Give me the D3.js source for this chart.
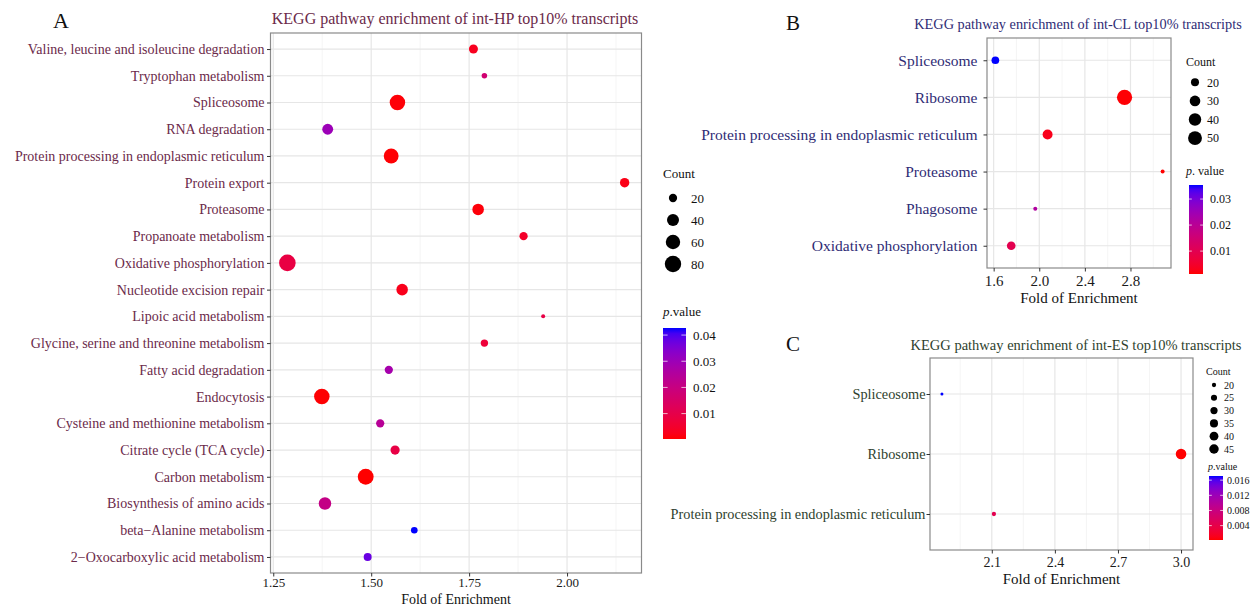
<!DOCTYPE html>
<html lang="en">
<head>
<meta charset="UTF-8">
<title>KEGG pathway enrichment</title>
<script src="https://d3js.org/d3.v7.min.js"></script>
<style>
  body { margin: 0; background: #fff; }
  svg text { font-family: "Liberation Serif", "Times New Roman", serif; }
</style>
</head>
<body>
<svg id="chart" width="1255" height="606"></svg>
<script>
// ---- panel A : int-HP (rows listed top to bottom)
const pathwaysA = [
  "Valine, leucine and isoleucine degradation", "Tryptophan metabolism", "Spliceosome",
  "RNA degradation", "Protein processing in endoplasmic reticulum", "Protein export",
  "Proteasome", "Propanoate metabolism", "Oxidative phosphorylation",
  "Nucleotide excision repair", "Lipoic acid metabolism", "Glycine, serine and threonine metabolism",
  "Fatty acid degradation", "Endocytosis", "Cysteine and methionine metabolism",
  "Citrate cycle (TCA cycle)", "Carbon metabolism", "Biosynthesis of amino acids",
  "beta\u2212Alanine metabolism", "2\u2212Oxocarboxylic acid metabolism"
];
const foldA = [1.761, 1.789, 1.567, 1.389, 1.551, 2.147, 1.773, 1.889, 1.286, 1.579,
               1.939, 1.789, 1.545, 1.374, 1.523, 1.561, 1.486, 1.382, 1.610, 1.491];
const countA = [23, 13, 70, 33, 64, 25, 37, 20, 82, 37, 12, 17, 20, 70, 20, 24, 74, 44, 15, 19];
const pvalA = [0.003, 0.017, 0.0008, 0.030, 0.0006, 0.002, 0.001, 0.0045, 0.0087, 0.0025,
               0.009, 0.007, 0.028, 0.0005, 0.024, 0.009, 0.0003, 0.021, 0.0427, 0.0376];
const xTicksA = [1.25, 1.5, 1.75, 2.0];
const xMinorA = [1.375, 1.625, 1.875, 2.125];
const countBreaksA = [20, 40, 60, 80];
const pBreaksA = [0.01, 0.02, 0.03, 0.04];

// ---- panel B : int-CL
const pathwaysB = ["Spliceosome", "Ribosome", "Protein processing in endoplasmic reticulum",
                   "Proteasome", "Phagosome", "Oxidative phosphorylation"];
const foldB = [1.615, 2.748, 2.073, 3.082, 1.965, 1.754];
const countB = [19, 60, 27, 14, 14, 22];
const pvalB = [0.0354, 0.0015, 0.003, 0.0012, 0.0217, 0.0097];
const xTicksB = [1.6, 2.0, 2.4, 2.8];
const xMinorB = [1.8, 2.2, 2.6, 3.0];
const countBreaksB = [20, 30, 40, 50];
const pBreaksB = [0.01, 0.02, 0.03];

// ---- panel C : int-ES
const pathwaysC = ["Spliceosome", "Ribosome", "Protein processing in endoplasmic reticulum"];
const foldC = [1.863, 3.0, 2.11];
const countC = [19, 55, 20];
const pvalC = [0.0171, 0.0002, 0.0044];
const xTicksC = [2.1, 2.4, 2.7, 3.0];
const xMinorC = [1.95, 2.25, 2.55, 2.85];
const countBreaksC = [20, 25, 30, 35, 40, 45];
const pBreaksC = [0.004, 0.008, 0.012, 0.016];

const svg = d3.select('#chart');
const defs = svg.append('defs');

// ggplot-like continuous expansion (5% each side)
function expand(ext, k) {
  const d = (ext[1] - ext[0]) * k;
  return [ext[0] - d, ext[1] + d];
}

function drawPanel(p) {
  const g = svg.append('g');
  const b = p.box;

  const x = d3.scaleLinear().domain(expand(d3.extent(p.fold), 0.05)).range([b.left, b.right]);
  const y = d3.scalePoint().domain(p.cats).range([b.top, b.bottom]).padding(0.6);
  const color = d3.scaleLinear().domain(d3.extent(p.pval))
    .range(['#ff0000', '#0000ff']).interpolate(d3.interpolateLab);
  const norm = d3.scaleLinear().domain(d3.extent(p.count)).clamp(true);
  const rad = d3.scaleLinear().domain([0, 1]).range(p.rRange);
  const r = n => rad(Math.sqrt(norm(n)));

  // panel background + grid
  g.append('rect').attr('x', b.left).attr('y', b.top)
    .attr('width', b.right - b.left).attr('height', b.bottom - b.top).attr('fill', '#fff');
  g.selectAll('.minor').data(p.minor).enter().append('line')
    .attr('x1', d => x(d)).attr('x2', d => x(d)).attr('y1', b.top).attr('y2', b.bottom)
    .attr('stroke', '#f0f0f0').attr('stroke-width', 0.7);
  g.selectAll('.vmajor').data(p.ticks).enter().append('line')
    .attr('x1', d => x(d)).attr('x2', d => x(d)).attr('y1', b.top).attr('y2', b.bottom)
    .attr('stroke', '#e6e6e6').attr('stroke-width', 1.2);
  g.selectAll('.hmajor').data(p.cats).enter().append('line')
    .attr('x1', b.left).attr('x2', b.right).attr('y1', d => y(d)).attr('y2', d => y(d))
    .attr('stroke', '#e6e6e6').attr('stroke-width', 1.2);

  // points
  g.selectAll('.pt').data(p.cats).enter().append('circle')
    .attr('cx', (d, i) => x(p.fold[i]))
    .attr('cy', d => y(d))
    .attr('r', (d, i) => r(p.count[i]))
    .attr('fill', (d, i) => color(p.pval[i]));

  // border
  g.append('rect').attr('x', b.left).attr('y', b.top)
    .attr('width', b.right - b.left).attr('height', b.bottom - b.top)
    .attr('fill', 'none').attr('stroke', '#8a8a8a').attr('stroke-width', 1.2);

  // axes
  const ax = g.append('g').attr('transform', `translate(0,${b.bottom})`)
    .call(d3.axisBottom(x).tickValues(p.ticks).tickFormat(d3.format(p.fmt))
      .tickSize(3.5).tickPadding(p.xPad));
  ax.select('.domain').remove();
  ax.selectAll('line').attr('stroke', '#333');
  ax.selectAll('text').attr('font-size', p.xFont).attr('fill', '#1a1a1a')
    .style('font-family', '"Liberation Serif", serif');

  const ay = g.append('g').attr('transform', `translate(${b.left},0)`)
    .call(d3.axisLeft(y).tickSize(3.5).tickPadding(p.yPad));
  ay.select('.domain').remove();
  ay.selectAll('line').attr('stroke', '#333');
  ay.selectAll('text').attr('font-size', p.yFont).attr('fill', p.textColor)
    .style('font-family', '"Liberation Serif", serif');

  // titles
  g.append('text').attr('x', p.letter.x).attr('y', p.letter.y)
    .attr('font-size', p.letter.size).attr('fill', '#111').text(p.letter.t);
  g.append('text').attr('x', p.title.x).attr('y', p.title.y).attr('text-anchor', 'middle')
    .attr('font-size', p.title.size).attr('fill', p.textColor).text(p.title.t);
  g.append('text').attr('x', (b.left + b.right) / 2).attr('y', p.axisTitle.y)
    .attr('text-anchor', 'middle').attr('font-size', p.axisTitle.size)
    .attr('fill', '#111').text('Fold of Enrichment');

  // size legend
  const L = p.legend;
  g.append('text').attr('x', L.titleX).attr('y', L.countY)
    .attr('font-size', L.font).attr('fill', '#111').text('Count');
  const items = g.selectAll('.sz').data(p.countBreaks).enter().append('g');
  items.append('circle').attr('cx', L.cx).attr('cy', (d, i) => L.cy0 + i * L.cstep)
    .attr('r', d => r(d)).attr('fill', '#000');
  items.append('text').attr('x', L.lx).attr('y', (d, i) => L.cy0 + i * L.cstep)
    .attr('dy', '0.35em').attr('font-size', L.font).attr('fill', '#111').text(d => d);

  // colour bar legend
  const pt = g.append('text').attr('x', L.pX).attr('y', L.pY)
    .attr('font-size', L.font).attr('fill', '#111');
  pt.append('tspan').attr('font-style', 'italic').text('p');
  pt.append('tspan').text(L.pLabel);

  const gid = 'grad' + p.letter.t;
  const grad = defs.append('linearGradient').attr('id', gid)
    .attr('x1', 0).attr('y1', 1).attr('x2', 0).attr('y2', 0);
  const pDom = d3.extent(p.pval);
  d3.range(0, 1.0001, 0.05).forEach(t => {
    grad.append('stop').attr('offset', t)
      .attr('stop-color', color(pDom[0] + t * (pDom[1] - pDom[0])));
  });
  g.append('rect').attr('x', L.barX).attr('y', L.barTop).attr('width', L.barW)
    .attr('height', L.barBot - L.barTop).attr('fill', `url(#${gid})`);
  const py = d3.scaleLinear().domain(pDom).range([L.barBot, L.barTop]);
  const bt = g.selectAll('.pb').data(p.pBreaks).enter().append('g');
  bt.append('line').attr('x1', L.barX).attr('x2', L.barX + L.barW / 5)
    .attr('y1', d => py(d)).attr('y2', d => py(d)).attr('stroke', '#fff').attr('stroke-opacity', 0.7);
  bt.append('line').attr('x1', L.barX + L.barW * 4 / 5).attr('x2', L.barX + L.barW)
    .attr('y1', d => py(d)).attr('y2', d => py(d)).attr('stroke', '#fff').attr('stroke-opacity', 0.7);
  bt.append('text').attr('x', L.barX + L.barW + L.pGap).attr('y', d => py(d))
    .attr('dy', '0.35em').attr('font-size', L.font).attr('fill', '#111')
    .text(d => d3.format(p.pFmt)(d));
}

drawPanel({
  cats: pathwaysA, fold: foldA, count: countA, pval: pvalA,
  ticks: xTicksA, minor: xMinorA, fmt: '.2f', countBreaks: countBreaksA, pBreaks: pBreaksA, pFmt: '.2f',
  box: { left: 270.5, right: 641.5, top: 33, bottom: 573 },
  rRange: [2, 8.3], textColor: '#6b2a4a',
  xFont: 13, xPad: 1.5, yFont: 14, yPad: 2.5,
  letter: { t: 'A', x: 53, y: 28, size: 22 },
  title: { t: 'KEGG pathway enrichment of int-HP top10% transcripts', x: 455, y: 24, size: 16 },
  axisTitle: { y: 604, size: 14 },
  legend: { titleX: 663, countY: 178, cx: 673, cy0: 198, cstep: 22, lx: 691, font: 13,
            pX: 663, pY: 316, pLabel: '.value', barX: 663, barW: 23, barTop: 328, barBot: 439, pGap: 7 }
});

drawPanel({
  cats: pathwaysB, fold: foldB, count: countB, pval: pvalB,
  ticks: xTicksB, minor: xMinorB, fmt: '.1f', countBreaks: countBreaksB, pBreaks: pBreaksB, pFmt: '.2f',
  box: { left: 987, right: 1171, top: 38, bottom: 268 },
  rRange: [2, 7.6], textColor: '#2f2c75',
  xFont: 15, xPad: 4, yFont: 15.5, yPad: 6,
  letter: { t: 'B', x: 786, y: 30, size: 21 },
  title: { t: 'KEGG pathway enrichment of int-CL top10% transcripts', x: 1078, y: 29, size: 14.3 },
  axisTitle: { y: 303, size: 15 },
  legend: { titleX: 1186, countY: 66, cx: 1195, cy0: 82.3, cstep: 18.6, lx: 1207, font: 12,
            pX: 1186, pY: 175, pLabel: '. value', barX: 1189, barW: 14, barTop: 185, barBot: 274, pGap: 7 }
});

drawPanel({
  cats: pathwaysC, fold: foldC, count: countC, pval: pvalC,
  ticks: xTicksC, minor: xMinorC, fmt: '.1f', countBreaks: countBreaksC, pBreaks: pBreaksC, pFmt: '.3f',
  box: { left: 930, right: 1193, top: 358, bottom: 550 },
  rRange: [1.5, 5.3], textColor: '#2e3f2e',
  xFont: 14, xPad: 3.5, yFont: 14.3, yPad: 1,
  letter: { t: 'C', x: 786, y: 351, size: 21 },
  title: { t: 'KEGG pathway enrichment of int-ES top10% transcripts', x: 1076, y: 350, size: 14.5 },
  axisTitle: { y: 584, size: 15 },
  legend: { titleX: 1206, countY: 375, cx: 1214, cy0: 385, cstep: 12.8, lx: 1224, font: 10,
            pX: 1208, pY: 470, pLabel: '.value', barX: 1209, barW: 14, barTop: 476, barBot: 540, pGap: 4 }
});
</script>
</body>
</html>
